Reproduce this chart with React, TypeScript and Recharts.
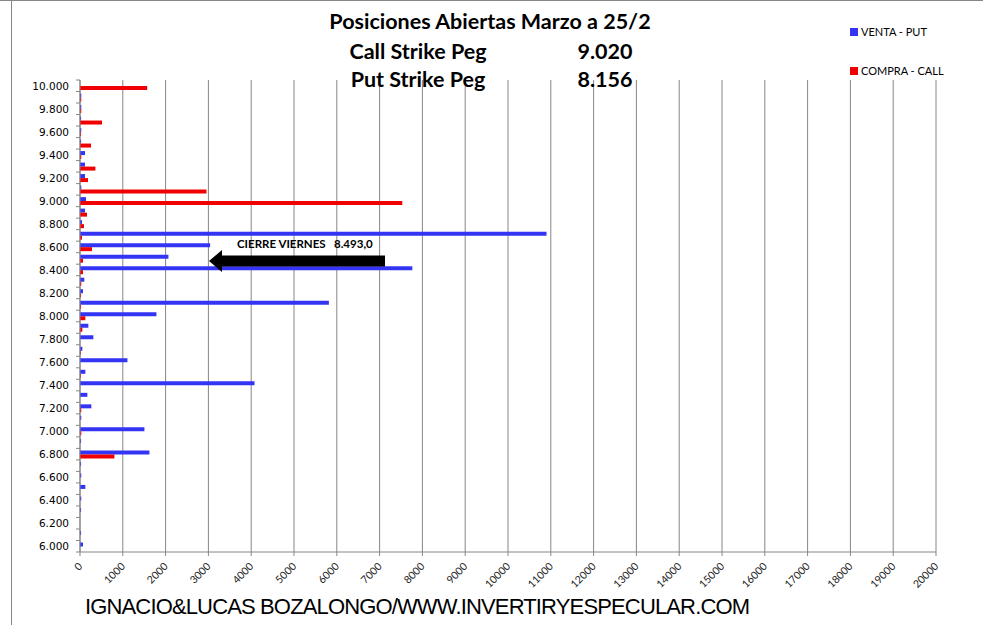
import React from "react";
import { Bar, BarChart, CartesianGrid, XAxis, YAxis } from "recharts";

const strikes = [
  "10.000", "9.900", "9.800", "9.700", "9.600", "9.500", "9.400", "9.300", "9.200", "9.100",
  "9.000", "8.900", "8.800", "8.700", "8.600", "8.500", "8.400", "8.300", "8.200", "8.100",
  "8.000", "7.900", "7.800", "7.700", "7.600", "7.500", "7.400", "7.300", "7.200", "7.100",
  "7.000", "6.900", "6.800", "6.700", "6.600", "6.500", "6.400", "6.300", "6.200", "6.100",
  "6.000",
];

const ventaPut = [
  0, 30, 30, 25, 30, 25, 117, 117, 117, 30,
  140, 117, 47, 10900, 3040, 2067, 7765, 101, 70, 5815,
  1786, 195, 312, 55, 1108, 125, 4078, 172, 265, 30,
  1505, 25, 1622, 25, 30, 125, 30, 25, 0, 25,
  70,
];

const compraCall = [
  1570, 30, 30, 515, 25, 257, 30, 360, 187, 2955,
  7530, 164, 94, 47, 280, 70, 70, 30, 25, 25,
  125, 55, 0, 20, 0, 20, 0, 0, 30, 0,
  30, 0, 804, 0, 0, 0, 0, 0, 0, 0,
  0,
];

const xTicks = [
  0, 1000, 2000, 3000, 4000, 5000, 6000, 7000, 8000, 9000, 10000,
  11000, 12000, 13000, 14000, 15000, 16000, 17000, 18000, 19000, 20000,
];

const W = 983;
const H = 625;
const PLOT_LEFT = 80;
const PLOT_RIGHT = 936;
const PLOT_TOP = 80;
const PLOT_BOTTOM = 552;
const BAND = (PLOT_BOTTOM - PLOT_TOP) / strikes.length;
const GRID = "#868686";
const BLUE = "#3434F4";
const RED = "#F00000";

const data = strikes.map((strike, i) => ({
  strike,
  put: ventaPut[i],
  call: compraCall[i],
}));

function StrikeTick(props: any) {
  const { y, index } = props;
  const boundary = y - BAND / 2;
  return (
    <g>
      <line x1={PLOT_LEFT - 4} x2={PLOT_LEFT} y1={boundary} y2={boundary} stroke={GRID} />
      {index === strikes.length - 1 && (
        <line x1={PLOT_LEFT - 4} x2={PLOT_LEFT} y1={y + BAND / 2} y2={y + BAND / 2} stroke={GRID} />
      )}
      {index % 2 === 0 && (
        <text
          x={PLOT_LEFT - 11}
          y={y}
          dy={4}
          textAnchor="end"
          fontFamily="DejaVu Sans"
          fontSize={10.5}
          fill="#000"
        >
          {props.payload.value}
        </text>
      )}
    </g>
  );
}

function AmountTick(props: any) {
  const { x, payload } = props;
  const ty = PLOT_BOTTOM + 15;
  return (
    <text
      x={x + 3}
      y={ty}
      textAnchor="end"
      transform={`rotate(-45 ${x + 3} ${ty})`}
      fontFamily="Lato"
      fontSize={10.5}
      fill="#222"
    >
      {payload.value}
    </text>
  );
}

export default function App() {
  return (
    <div
      style={{
        position: "absolute",
        left: 0,
        top: 0,
        width: W,
        height: H,
        background: "#fff",
        overflow: "hidden",
      }}
    >
      <BarChart
        width={W}
        height={H}
        data={data}
        layout="vertical"
        margin={{ top: PLOT_TOP, right: W - PLOT_RIGHT, bottom: H - PLOT_BOTTOM - 50, left: 0 }}
        barCategoryGap={2}
        barGap={0}
      >
        <CartesianGrid horizontal={false} stroke={GRID} strokeDasharray="" />
        <XAxis
          type="number"
          domain={[0, 20000]}
          ticks={xTicks}
          interval={0}
          height={50}
          axisLine={{ stroke: GRID }}
          tickLine={{ stroke: GRID }}
          tickSize={4}
          tick={<AmountTick />}
        />
        <YAxis
          type="category"
          dataKey="strike"
          width={PLOT_LEFT}
          interval={0}
          axisLine={{ stroke: GRID }}
          tickLine={false}
          tick={<StrikeTick />}
        />
        <Bar dataKey="put" name="VENTA - PUT" fill={BLUE} isAnimationActive={false} />
        <Bar dataKey="call" name="COMPRA - CALL" fill={RED} isAnimationActive={false} />
      </BarChart>

      <svg
        width={W}
        height={H}
        style={{ position: "absolute", left: 0, top: 0, pointerEvents: "none" }}
      >
        <line x1={0} x2={W} y1={0.5} y2={0.5} stroke={GRID} />
        <line x1={11.5} x2={11.5} y1={0} y2={H} stroke={GRID} />

        <g fontFamily="Lato" fontWeight="bold" fill="#000">
          <text x={490} y={29} fontSize={21.5} textAnchor="middle">
            Posiciones Abiertas Marzo a 25/2
          </text>
          <text x={418} y={59} fontSize={21.5} textAnchor="middle">
            Call Strike Peg
          </text>
          <text x={605} y={59} fontSize={21.5} textAnchor="middle">
            9.020
          </text>
          <text x={418} y={87} fontSize={21.5} textAnchor="middle">
            Put Strike Peg
          </text>
          <text x={605} y={87} fontSize={21.5} textAnchor="middle">
            8.156
          </text>
          <text x={237} y={248} fontSize={11.5}>
            CIERRE VIERNES{"\u00a0\u00a0\u00a0"}8.493,0
          </text>
        </g>

        <polygon
          points="209,261 222,250 222,255.5 385,255.5 385,266.5 222,266.5 222,272"
          fill="#000"
        />

        <rect x={850} y={28} width={8} height={8} fill={BLUE} />
        <text x={861} y={36} fontFamily="Lato" fontSize={11} fill="#000">
          VENTA - PUT
        </text>
        <rect x={850} y={67} width={8} height={8} fill={RED} />
        <text x={861} y={75} fontFamily="Lato" fontSize={11} fill="#000">
          COMPRA - CALL
        </text>

        <text
          x={85}
          y={614}
          fontFamily="Liberation Sans"
          fontSize={22}
          fill="#000"
          textLength={665}
        >
          IGNACIO&amp;LUCAS BOZALONGO/WWW.INVERTIRYESPECULAR.COM
        </text>
      </svg>
    </div>
  );
}
